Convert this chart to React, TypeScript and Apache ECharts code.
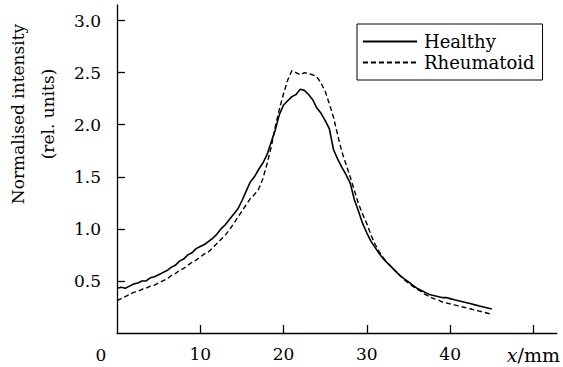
import React, { useEffect, useRef } from "react";
import * as echarts from "echarts";

// Sample positions along the profile (mm)
const positionsMm = [
  0, 0.5, 1, 1.5, 2, 2.5, 3, 3.5, 4, 4.5, 5, 5.5, 6, 6.5, 7, 7.5, 8, 8.5, 9, 9.5,
  10, 10.5, 11, 11.5, 12, 12.5, 13, 13.5, 14, 14.5, 15, 15.5, 16, 16.5, 17, 17.5, 18, 18.5, 19, 19.5,
  20, 20.5, 21, 21.5, 22, 22.5, 23, 23.5, 24, 24.5, 25, 25.5, 26, 26.5, 27, 27.5, 28, 28.5, 29, 29.5,
  30, 30.5, 31, 31.5, 32, 32.5, 33, 33.5, 34, 34.5, 35, 35.5, 36, 36.5, 37, 37.5, 38, 38.5, 39, 39.5,
  40, 40.5, 41, 41.5, 42, 42.5, 43, 43.5, 44, 44.5, 45,
];

const healthyValues = [
  0.43, 0.44, 0.43, 0.45, 0.47, 0.48, 0.50, 0.50, 0.53, 0.54, 0.56, 0.58, 0.60, 0.63, 0.65, 0.69, 0.71, 0.75, 0.77, 0.81,
  0.83, 0.85, 0.88, 0.91, 0.95, 1.00, 1.04, 1.09, 1.14, 1.19, 1.27, 1.36, 1.45, 1.50, 1.57, 1.63, 1.71, 1.83, 1.95, 2.10,
  2.19, 2.23, 2.27, 2.29, 2.34, 2.33, 2.29, 2.24, 2.16, 2.11, 2.04, 1.96, 1.76, 1.67, 1.59, 1.52, 1.44, 1.28, 1.17, 1.05,
  0.96, 0.88, 0.82, 0.76, 0.71, 0.67, 0.63, 0.59, 0.55, 0.52, 0.49, 0.46, 0.43, 0.41, 0.39, 0.37, 0.36, 0.35, 0.34, 0.34,
  0.33, 0.32, 0.31, 0.30, 0.29, 0.28, 0.27, 0.26, 0.25, 0.24, 0.23,
];

const rheumatoidValues = [
  0.31, 0.33, 0.35, 0.37, 0.39, 0.40, 0.42, 0.43, 0.45, 0.46, 0.48, 0.50, 0.52, 0.55, 0.57, 0.60, 0.62, 0.65, 0.68, 0.70,
  0.73, 0.76, 0.78, 0.82, 0.86, 0.90, 0.94, 0.99, 1.05, 1.11, 1.17, 1.23, 1.29, 1.33, 1.38, 1.48, 1.62, 1.78, 1.98, 2.15,
  2.30, 2.43, 2.52, 2.50, 2.48, 2.50, 2.49, 2.48, 2.46, 2.40, 2.32, 2.20, 2.07, 1.90, 1.74, 1.62, 1.50, 1.37, 1.24, 1.14,
  1.05, 0.94, 0.85, 0.78, 0.72, 0.67, 0.63, 0.59, 0.55, 0.51, 0.48, 0.45, 0.42, 0.40, 0.37, 0.35, 0.33, 0.32, 0.30, 0.29,
  0.28, 0.27, 0.26, 0.25, 0.24, 0.23, 0.22, 0.21, 0.20, 0.19, 0.18,
];

const seriesNames = ["Healthy", "Rheumatoid"];
const xTickValues = [10, 20, 30, 40, 50];
const yTickValues = [0.5, 1.0, 1.5, 2.0, 2.5, 3.0];

const FONT = "DejaVu Serif";

export default function App() {
  const ref = useRef<HTMLDivElement>(null);

  useEffect(() => {
    if (!ref.current) return;
    const chart = echarts.init(ref.current, null, { renderer: "svg" });
    const pair = (vals: number[]) => positionsMm.map((x, i) => [x, vals[i]]);

    chart.setOption({
      animation: false,
      backgroundColor: "#fff",
      textStyle: { fontFamily: FONT, color: "#000" },
      grid: { left: 117, right: 0, top: 5, bottom: 34, containLabel: false },
      xAxis: {
        type: "value",
        min: 0,
        max: 52.8,
        splitLine: { show: false },
        axisLine: { lineStyle: { color: "#000", width: 1.3 } },
        axisTick: { inside: true, length: 8, customValues: xTickValues, lineStyle: { color: "#000", width: 1.3 } },
        axisLabel: {
          customValues: xTickValues,
          margin: 12,
          fontSize: 17,
          fontFamily: FONT,
          color: "#000",
          formatter: (v: number) => (v === 50 ? "{i|x}{n|/mm}" : String(v)),
          rich: {
            i: { fontStyle: "italic", fontSize: 19, fontFamily: FONT, color: "#000" },
            n: { fontSize: 19, fontFamily: FONT, color: "#000" },
          },
        },
      },
      yAxis: {
        type: "value",
        min: 0,
        max: 3.15,
        splitLine: { show: false },
        axisLine: { lineStyle: { color: "#000", width: 1.3 } },
        axisTick: { inside: true, length: 8, customValues: yTickValues, lineStyle: { color: "#000", width: 1.3 } },
        axisLabel: {
          customValues: yTickValues,
          margin: 16,
          fontSize: 17,
          fontFamily: FONT,
          color: "#000",
          formatter: (v: number) => v.toFixed(1),
        },
      },
      legend: {
        left: 357,
        top: 24,
        orient: "vertical",
        itemWidth: 54,
        itemHeight: 14,
        itemGap: 0,
        padding: [7, 8, 7, 5],
        borderColor: "#000",
        borderWidth: 1,
        borderRadius: 0,
        itemStyle: { opacity: 0 },
        textStyle: { fontSize: 18, lineHeight: 21, fontFamily: FONT, color: "#000", padding: [0, 0, 0, 2] },
        data: seriesNames,
      },
      graphic: [
        {
          type: "text",
          x: 33,
          y: 114,
          rotation: Math.PI / 2,
          style: {
            text: "Normalised intensity\n(rel. units)",
            fontSize: 17,
            lineHeight: 30,
            fontFamily: FONT,
            fill: "#000",
            align: "center",
            verticalAlign: "middle",
          },
        },
        {
          type: "text",
          x: 101,
          y: 355,
          style: {
            text: "0",
            fontSize: 17,
            fontFamily: FONT,
            fill: "#000",
            align: "center",
            verticalAlign: "middle",
          },
        },
      ],
      series: [
        {
          name: seriesNames[0],
          type: "line",
          data: pair(healthyValues),
          showSymbol: false,
          symbol: "none",
          lineStyle: { color: "#000", width: 1.6, type: "solid" },
          itemStyle: { color: "#000" },
        },
        {
          name: seriesNames[1],
          type: "line",
          data: pair(rheumatoidValues),
          showSymbol: false,
          symbol: "none",
          lineStyle: { color: "#000", width: 1.4, type: [5, 3] },
          itemStyle: { color: "#000" },
        },
      ],
    });
    return () => chart.dispose();
  }, []);

  return (
    <div
      ref={ref}
      style={{ position: "fixed", left: 0, top: 0, width: 563, height: 367, background: "#fff" }}
    />
  );
}
